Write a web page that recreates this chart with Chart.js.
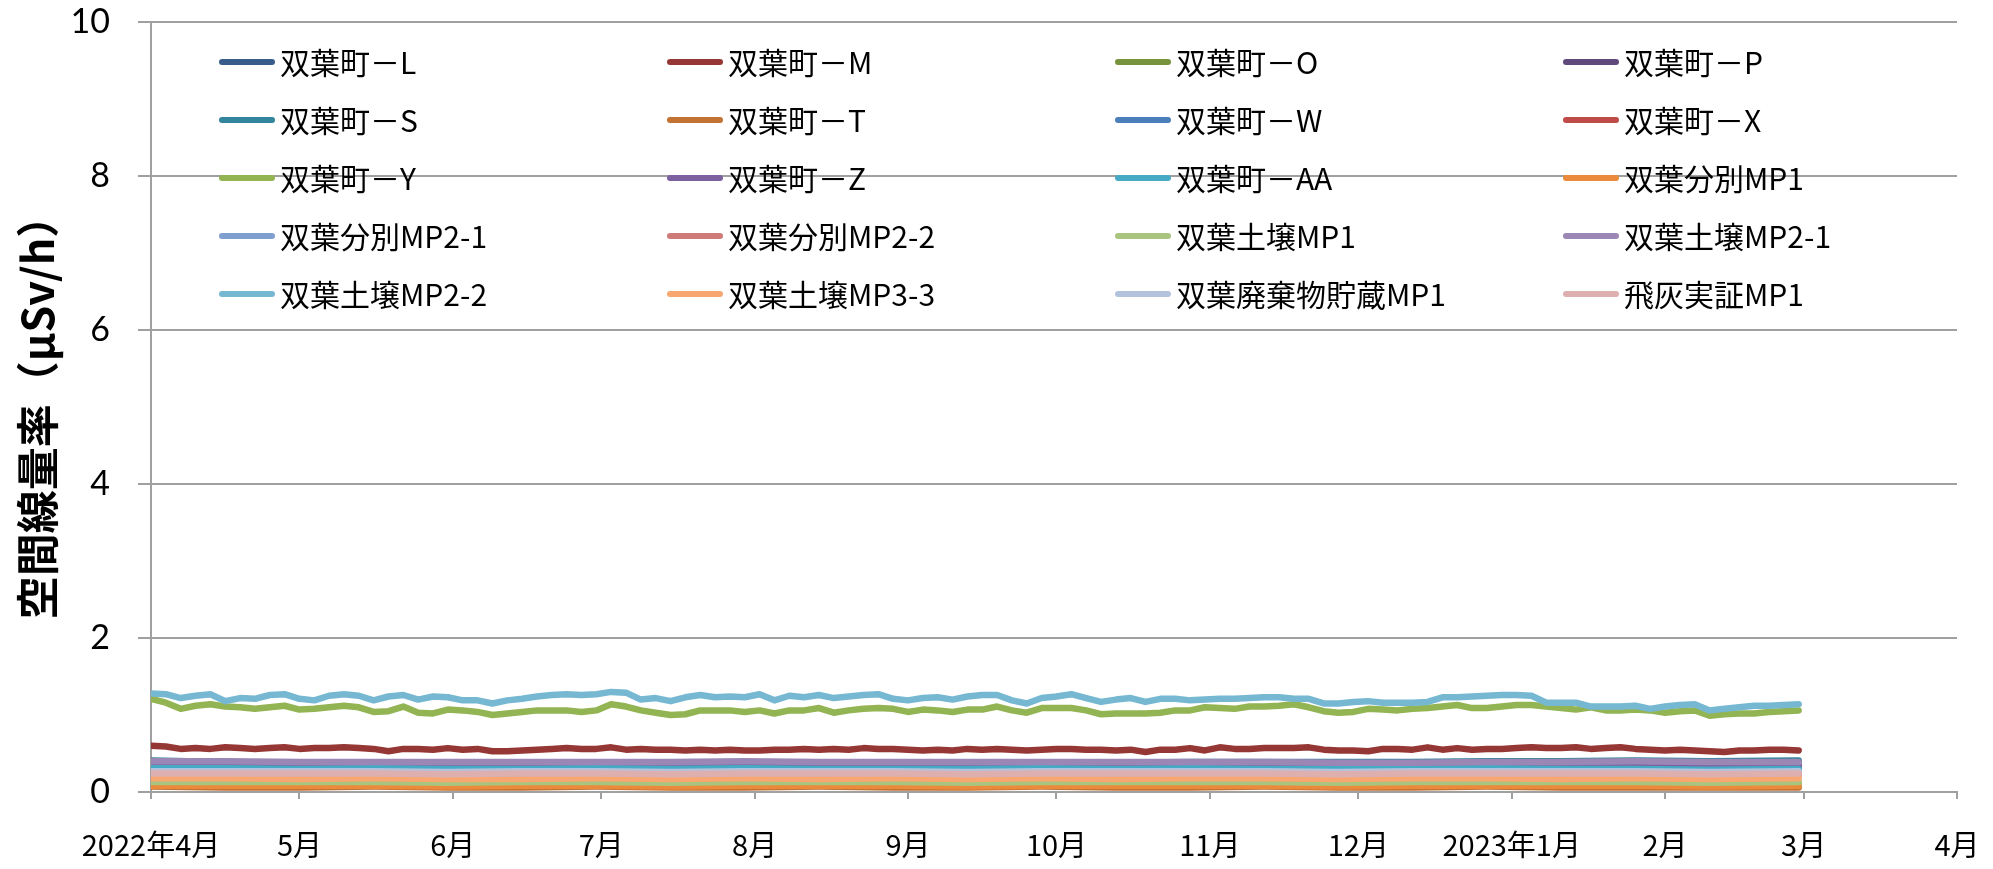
<!DOCTYPE html>
<html lang="ja">
<head>
<meta charset="utf-8">
<title>双葉町 空間線量率の推移</title>
<script src="https://cdn.jsdelivr.net/npm/chart.js@4/dist/chart.umd.min.js"></script>
<style>
  html, body { margin: 0; padding: 0; background: #ffffff; }
  canvas { display: block; }
</style>
</head>
<body>
<canvas id="chart" width="1993" height="869"></canvas>
<script>
// Days counted from 2022-04-01
const monthStarts = [0, 30, 61, 91, 122, 153, 183, 214, 244, 275, 306, 334, 365];
const monthLabels = ['2022年4月', '5月', '6月', '7月', '8月', '9月', '10月', '11月', '12月', '2023年1月', '2月', '3月', '4月'];
const yTicks = [0, 2, 4, 6, 8, 10];

// Sample days for the three upper series (every third day)
const fineDays = [
  0, 3, 6, 9, 12, 15, 18, 21, 24, 27,
  30, 33, 36, 39, 42, 45, 48, 51, 54, 57,
  60, 63, 66, 69, 72, 75, 78, 81, 84, 87,
  90, 93, 96, 99, 102, 105, 108, 111, 114, 117,
  120, 123, 126, 129, 132, 135, 138, 141, 144, 147,
  150, 153, 156, 159, 162, 165, 168, 171, 174, 177,
  180, 183, 186, 189, 192, 195, 198, 201, 204, 207,
  210, 213, 216, 219, 222, 225, 228, 231, 234, 237,
  240, 243, 246, 249, 252, 255, 258, 261, 264, 267,
  270, 273, 276, 279, 282, 285, 288, 291, 294, 297,
  300, 303, 306, 309, 312, 315, 318, 321, 324, 327,
  330, 333
];

// Sample days for the low, nearly flat series
const coarseDays = [0, 15, 30, 45, 60, 75, 90, 105, 120, 135, 150, 165, 180, 195, 210, 225, 240, 255, 270, 285, 300, 315, 333];

// 双葉土壌MP2-2
const dojoMP2_2 = [
  1.28, 1.27, 1.22, 1.25, 1.27, 1.18, 1.22, 1.21, 1.26, 1.27,
  1.21, 1.19, 1.25, 1.27, 1.25, 1.19, 1.24, 1.26, 1.20, 1.24,
  1.23, 1.19, 1.19, 1.15, 1.19, 1.21, 1.24, 1.26, 1.27, 1.26,
  1.27, 1.30, 1.29, 1.20, 1.22, 1.18, 1.23, 1.26, 1.23, 1.24,
  1.23, 1.27, 1.19, 1.25, 1.23, 1.26, 1.22, 1.24, 1.26, 1.27,
  1.21, 1.19, 1.22, 1.23, 1.20, 1.24, 1.26, 1.26, 1.19, 1.15,
  1.22, 1.24, 1.27, 1.22, 1.17, 1.20, 1.22, 1.17, 1.21, 1.21,
  1.19, 1.20, 1.21, 1.21, 1.22, 1.23, 1.23, 1.21, 1.21, 1.15,
  1.15, 1.17, 1.18, 1.16, 1.16, 1.16, 1.17, 1.23, 1.23, 1.24,
  1.25, 1.26, 1.26, 1.25, 1.16, 1.16, 1.16, 1.11, 1.11, 1.11,
  1.12, 1.08, 1.11, 1.13, 1.14, 1.06, 1.08, 1.10, 1.12, 1.12,
  1.13, 1.14
];

// 双葉町－Y
const townY = [
  1.21, 1.16, 1.08, 1.12, 1.14, 1.11, 1.10, 1.08, 1.10, 1.12,
  1.07, 1.08, 1.10, 1.12, 1.10, 1.04, 1.05, 1.11, 1.03, 1.02,
  1.07, 1.06, 1.04, 1.00, 1.02, 1.04, 1.06, 1.06, 1.06, 1.04,
  1.06, 1.14, 1.11, 1.06, 1.03, 1.00, 1.01, 1.06, 1.06, 1.06,
  1.04, 1.06, 1.02, 1.06, 1.06, 1.09, 1.03, 1.06, 1.08, 1.09,
  1.08, 1.04, 1.07, 1.06, 1.04, 1.07, 1.07, 1.11, 1.06, 1.03,
  1.09, 1.09, 1.09, 1.06, 1.01, 1.02, 1.02, 1.02, 1.03, 1.06,
  1.06, 1.10, 1.09, 1.08, 1.11, 1.11, 1.12, 1.14, 1.10, 1.05,
  1.03, 1.04, 1.08, 1.07, 1.06, 1.08, 1.09, 1.11, 1.13, 1.09,
  1.09, 1.11, 1.13, 1.13, 1.11, 1.09, 1.07, 1.10, 1.06, 1.06,
  1.07, 1.06, 1.03, 1.05, 1.06, 0.99, 1.01, 1.02, 1.02, 1.04,
  1.05, 1.06
];

// 双葉町－M
const townM = [
  0.60, 0.59, 0.56, 0.57, 0.56, 0.58, 0.57, 0.56, 0.57, 0.58,
  0.56, 0.57, 0.57, 0.58, 0.57, 0.56, 0.53, 0.56, 0.56, 0.55,
  0.57, 0.55, 0.56, 0.53, 0.53, 0.54, 0.55, 0.56, 0.57, 0.56,
  0.56, 0.58, 0.55, 0.56, 0.55, 0.55, 0.54, 0.55, 0.54, 0.55,
  0.54, 0.54, 0.55, 0.55, 0.56, 0.55, 0.56, 0.55, 0.57, 0.56,
  0.56, 0.55, 0.54, 0.55, 0.54, 0.56, 0.55, 0.56, 0.55, 0.54,
  0.55, 0.56, 0.56, 0.55, 0.55, 0.54, 0.55, 0.52, 0.55, 0.55,
  0.57, 0.54, 0.58, 0.56, 0.56, 0.57, 0.57, 0.57, 0.58, 0.55,
  0.54, 0.54, 0.53, 0.56, 0.56, 0.55, 0.58, 0.55, 0.57, 0.55,
  0.56, 0.56, 0.57, 0.58, 0.57, 0.57, 0.58, 0.56, 0.57, 0.58,
  0.56, 0.55, 0.54, 0.55, 0.54, 0.53, 0.52, 0.54, 0.54, 0.55,
  0.55, 0.54
];

// Low series (coarse sampling)
const townL      = [0.30, 0.30, 0.29, 0.30, 0.29, 0.29, 0.30, 0.29, 0.30, 0.29, 0.29, 0.29, 0.30, 0.29, 0.29, 0.29, 0.29, 0.29, 0.29, 0.29, 0.29, 0.29, 0.29];
const townO      = [0.12, 0.12, 0.11, 0.12, 0.11, 0.11, 0.12, 0.11, 0.12, 0.11, 0.12, 0.11, 0.12, 0.11, 0.12, 0.12, 0.11, 0.12, 0.12, 0.11, 0.12, 0.11, 0.12];
const townP      = [0.33, 0.33, 0.32, 0.33, 0.32, 0.33, 0.32, 0.33, 0.33, 0.32, 0.33, 0.32, 0.33, 0.32, 0.33, 0.33, 0.32, 0.33, 0.33, 0.32, 0.33, 0.32, 0.33];
const townS      = [0.41, 0.39, 0.38, 0.38, 0.38, 0.38, 0.38, 0.38, 0.38, 0.38, 0.38, 0.38, 0.38, 0.38, 0.39, 0.39, 0.39, 0.39, 0.40, 0.40, 0.41, 0.40, 0.41];
const townT      = [0.07, 0.06, 0.06, 0.07, 0.06, 0.06, 0.07, 0.06, 0.06, 0.07, 0.06, 0.06, 0.07, 0.06, 0.06, 0.07, 0.06, 0.06, 0.07, 0.06, 0.06, 0.06, 0.06];
const townW      = [0.29, 0.28, 0.28, 0.28, 0.28, 0.28, 0.28, 0.28, 0.28, 0.28, 0.28, 0.28, 0.28, 0.28, 0.28, 0.28, 0.27, 0.28, 0.28, 0.28, 0.28, 0.27, 0.28];
const townX      = [0.25, 0.25, 0.25, 0.25, 0.24, 0.25, 0.25, 0.24, 0.25, 0.25, 0.25, 0.24, 0.25, 0.25, 0.25, 0.25, 0.24, 0.25, 0.25, 0.25, 0.25, 0.24, 0.25];
const townZ      = [0.35, 0.35, 0.35, 0.35, 0.34, 0.35, 0.35, 0.34, 0.35, 0.35, 0.35, 0.34, 0.35, 0.35, 0.35, 0.35, 0.34, 0.35, 0.35, 0.35, 0.35, 0.34, 0.35];
const townAA     = [0.31, 0.31, 0.30, 0.31, 0.30, 0.30, 0.31, 0.30, 0.31, 0.30, 0.30, 0.30, 0.31, 0.30, 0.31, 0.30, 0.30, 0.30, 0.31, 0.30, 0.30, 0.29, 0.30];
const bunbetsuMP1   = [0.08, 0.08, 0.08, 0.08, 0.07, 0.08, 0.08, 0.07, 0.08, 0.08, 0.08, 0.07, 0.08, 0.08, 0.08, 0.08, 0.07, 0.08, 0.08, 0.08, 0.08, 0.07, 0.08];
const bunbetsuMP2_1 = [0.26, 0.26, 0.26, 0.26, 0.25, 0.26, 0.26, 0.25, 0.26, 0.26, 0.26, 0.25, 0.26, 0.26, 0.26, 0.26, 0.25, 0.26, 0.26, 0.26, 0.26, 0.25, 0.26];
const bunbetsuMP2_2 = [0.22, 0.22, 0.21, 0.22, 0.21, 0.21, 0.22, 0.21, 0.22, 0.21, 0.22, 0.21, 0.22, 0.21, 0.22, 0.22, 0.21, 0.22, 0.22, 0.21, 0.22, 0.21, 0.22];
const dojoMP1       = [0.13, 0.13, 0.13, 0.13, 0.12, 0.13, 0.13, 0.12, 0.13, 0.13, 0.13, 0.12, 0.13, 0.13, 0.13, 0.13, 0.12, 0.13, 0.13, 0.13, 0.13, 0.12, 0.13];
const dojoMP2_1     = [0.40, 0.40, 0.39, 0.39, 0.39, 0.39, 0.39, 0.39, 0.40, 0.39, 0.39, 0.39, 0.39, 0.39, 0.39, 0.39, 0.38, 0.38, 0.39, 0.39, 0.40, 0.39, 0.39];
const dojoMP3_3     = [0.18, 0.18, 0.17, 0.18, 0.17, 0.17, 0.18, 0.17, 0.18, 0.17, 0.18, 0.17, 0.18, 0.17, 0.18, 0.18, 0.17, 0.18, 0.18, 0.17, 0.18, 0.17, 0.18];
const haikibutsuMP1 = [0.27, 0.27, 0.27, 0.27, 0.26, 0.27, 0.27, 0.26, 0.27, 0.27, 0.27, 0.26, 0.27, 0.27, 0.27, 0.27, 0.26, 0.27, 0.27, 0.27, 0.27, 0.26, 0.27];
const hibaiMP1      = [0.24, 0.24, 0.24, 0.24, 0.23, 0.24, 0.24, 0.23, 0.24, 0.24, 0.24, 0.23, 0.24, 0.24, 0.24, 0.24, 0.23, 0.24, 0.24, 0.24, 0.24, 0.23, 0.24];

// Series list in legend order: [label, values, sample days, colour]
const seriesDefs = [
  ['双葉町－L', townL, coarseDays, '#385D8A'],
  ['双葉町－M', townM, fineDays, '#953735'],
  ['双葉町－O', townO, coarseDays, '#77933C'],
  ['双葉町－P', townP, coarseDays, '#5F4A7B'],
  ['双葉町－S', townS, coarseDays, '#31859C'],
  ['双葉町－T', townT, coarseDays, '#C27232'],
  ['双葉町－W', townW, coarseDays, '#4A7EBB'],
  ['双葉町－X', townX, coarseDays, '#BE4B48'],
  ['双葉町－Y', townY, fineDays, '#93B453'],
  ['双葉町－Z', townZ, coarseDays, '#7D60A0'],
  ['双葉町－AA', townAA, coarseDays, '#46AAC5'],
  ['双葉分別MP1', bunbetsuMP1, coarseDays, '#EB8A3A'],
  ['双葉分別MP2-1', bunbetsuMP2_1, coarseDays, '#7F9FCF'],
  ['双葉分別MP2-2', bunbetsuMP2_2, coarseDays, '#CF7B79'],
  ['双葉土壌MP1', dojoMP1, coarseDays, '#A9C47F'],
  ['双葉土壌MP2-1', dojoMP2_1, coarseDays, '#9B87B5'],
  ['双葉土壌MP2-2', dojoMP2_2, fineDays, '#76B8D2'],
  ['双葉土壌MP3-3', dojoMP3_3, coarseDays, '#F9A771'],
  ['双葉廃棄物貯蔵MP1', haikibutsuMP1, coarseDays, '#B3C3DD'],
  ['飛灰実証MP1', hibaiMP1, coarseDays, '#DDB0AF']
];

const CJK = "'Noto Sans CJK JP', 'Noto Sans', sans-serif";
const AXIS_GREY = '#A0A0A0';

const datasets = seriesDefs.map(([label, values, days, color], i) => ({
  label,
  data: values.map((v, k) => ({ x: days[k], y: v })),
  borderColor: color,
  backgroundColor: color,
  borderWidth: 6.5,
  pointRadius: 0,
  pointHoverRadius: 0,
  tension: 0,
  fill: false,
  borderJoinStyle: 'round',
  borderCapStyle: 'round',
  // later series are painted over earlier ones
  order: seriesDefs.length - i
}));

// Four-column legend painted inside the plot area
const gridLegend = {
  id: 'gridLegend',
  afterDraw(chart) {
    const ctx = chart.ctx;
    const colX = [219, 667, 1115, 1563];
    const rowY0 = 62, rowStep = 58;
    ctx.save();
    ctx.font = '30px ' + CJK;
    ctx.textBaseline = 'middle';
    ctx.textAlign = 'left';
    chart.data.datasets.forEach((ds, i) => {
      const x = colX[i % 4];
      const y = rowY0 + Math.floor(i / 4) * rowStep;
      ctx.strokeStyle = ds.borderColor;
      ctx.lineWidth = 6;
      ctx.lineCap = 'round';
      ctx.beginPath();
      ctx.moveTo(x + 3, y);
      ctx.lineTo(x + 53, y);
      ctx.stroke();
      ctx.fillStyle = '#000000';
      ctx.fillText(ds.label, x + 61, y + 1);
    });
    ctx.restore();
  }
};

new Chart(document.getElementById('chart'), {
  type: 'line',
  data: { datasets },
  plugins: [gridLegend],
  options: {
    responsive: false,
    devicePixelRatio: 1,
    animation: false,
    layout: { padding: { top: 22, right: 36, left: 0, bottom: 0 } },
    plugins: {
      legend: { display: false },
      tooltip: { enabled: false }
    },
    scales: {
      x: {
        type: 'linear',
        min: 0,
        max: 365,
        afterBuildTicks: (scale) => { scale.ticks = monthStarts.map(v => ({ value: v })); },
        afterFit: (scale) => {
          scale.height = 77;
          scale.paddingLeft = 0;
          scale.paddingRight = 0;
        },
        ticks: {
          autoSkip: false,
          maxRotation: 0,
          minRotation: 0,
          padding: 29,
          color: '#000000',
          font: { family: CJK, size: 29 },
          callback: (value) => monthLabels[monthStarts.indexOf(value)]
        },
        grid: {
          display: true,
          drawOnChartArea: false,
          drawTicks: true,
          tickLength: 7,
          color: AXIS_GREY,
          lineWidth: 2
        },
        border: { display: true, color: AXIS_GREY, width: 2 }
      },
      y: {
        type: 'linear',
        min: 0,
        max: 10,
        afterBuildTicks: (scale) => { scale.ticks = yTicks.map(v => ({ value: v })); },
        afterFit: (scale) => {
          scale.width = 151;
          scale.paddingTop = 0;
          scale.paddingBottom = 0;
        },
        ticks: {
          padding: 28,
          color: '#000000',
          font: { family: "Lato, 'Open Sans', sans-serif", size: 34 }
        },
        grid: {
          color: AXIS_GREY,
          lineWidth: 2,
          drawTicks: true,
          tickLength: 13
        },
        border: { display: true, color: AXIS_GREY, width: 2 },
        title: {
          display: true,
          text: '空間線量率（μSv/h）',
          color: '#000000',
          font: { family: CJK, size: 43, weight: 'bold' },
          padding: { top: 12, bottom: 0 }
        }
      }
    }
  }
});
</script>
</body>
</html>
